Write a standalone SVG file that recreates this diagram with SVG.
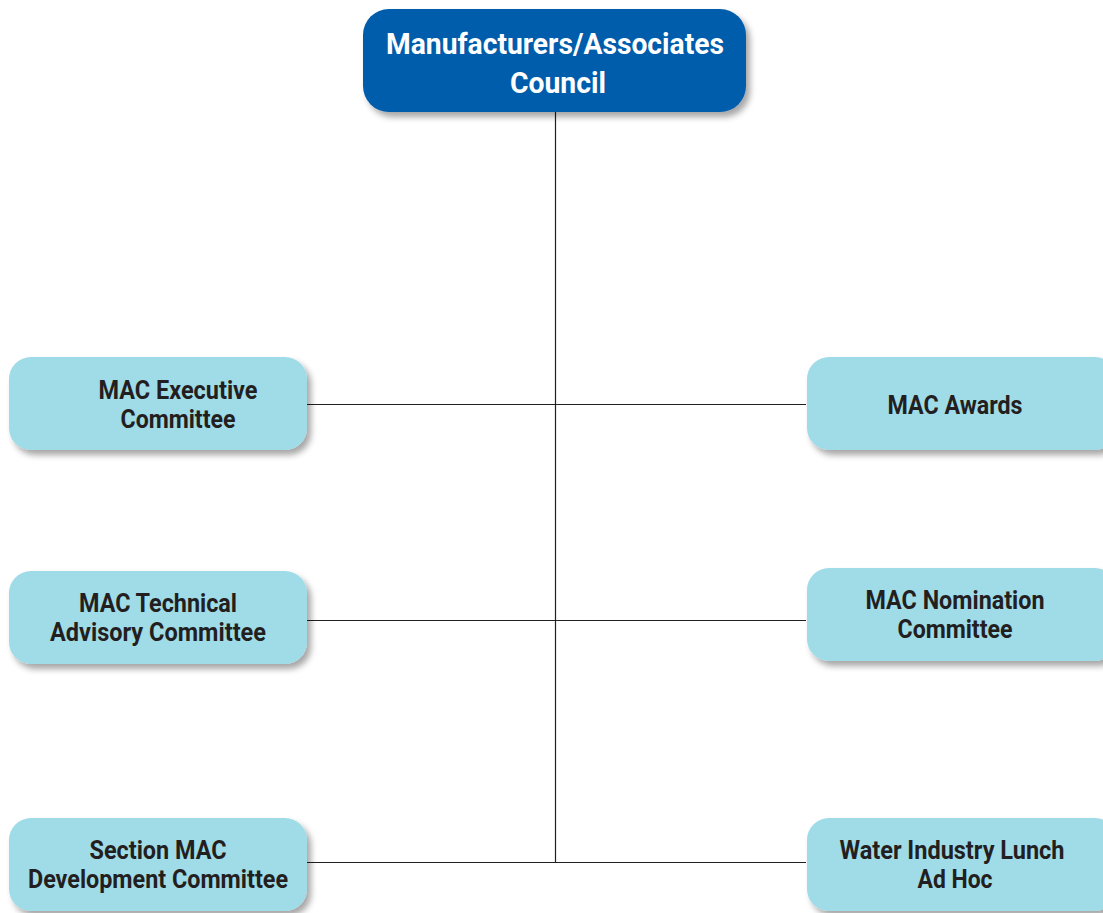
<svg xmlns="http://www.w3.org/2000/svg" width="1103" height="913" viewBox="0 0 1103 913">
<style>
.top{fill:#005dab;}
.box{fill:#a0dbe8;}
.t{font-family:"Roboto","Liberation Sans",sans-serif;font-weight:bold;text-anchor:middle;fill:#231f20;font-size:26px;}
.tw{font-family:"Roboto","Liberation Sans",sans-serif;font-weight:bold;text-anchor:middle;fill:#ffffff;font-size:29px;}
.ln{stroke:#231f20;stroke-width:1.2;fill:none;}
</style>
<defs>
<filter id="sh" x="-10%" y="-10%" width="130%" height="140%">
<feDropShadow dx="4" dy="5" stdDeviation="3" flood-color="#000" flood-opacity="0.35"/>
</filter>
</defs>
<g id="connectors">
<path class="ln" d="M555.5 112V862.5M307 404.5H806M307 620.5H806M307 862.5H806"/>
</g>
<g id="council">
<rect class="top" x="363" y="9" width="383" height="103" rx="26" filter="url(#sh)"/>
<text class="tw" x="555" y="54" textLength="338" lengthAdjust="spacingAndGlyphs">Manufacturers/Associates</text>
<text class="tw" x="558" y="93" textLength="96" lengthAdjust="spacingAndGlyphs">Council</text>
</g>
<g id="exec">
<rect class="box" x="9" y="357" width="298" height="93" rx="22" filter="url(#sh)"/>
<text class="t" x="178" y="399" textLength="159" lengthAdjust="spacingAndGlyphs">MAC Executive</text>
<text class="t" x="178" y="428" textLength="115" lengthAdjust="spacingAndGlyphs">Committee</text>
</g>
<g id="tech">
<rect class="box" x="9" y="571" width="298" height="93" rx="22" filter="url(#sh)"/>
<text class="t" x="158" y="612" textLength="158" lengthAdjust="spacingAndGlyphs">MAC Technical</text>
<text class="t" x="158" y="641" textLength="216" lengthAdjust="spacingAndGlyphs">Advisory Committee</text>
</g>
<g id="section">
<rect class="box" x="9" y="818" width="298" height="93" rx="22" filter="url(#sh)"/>
<text class="t" x="158" y="859" textLength="137" lengthAdjust="spacingAndGlyphs">Section MAC</text>
<text class="t" x="158" y="888" textLength="260" lengthAdjust="spacingAndGlyphs">Development Committee</text>
</g>
<g id="awards">
<rect class="box" x="807" y="357" width="310" height="93" rx="22" filter="url(#sh)"/>
<text class="t" x="955" y="414" textLength="135" lengthAdjust="spacingAndGlyphs">MAC Awards</text>
</g>
<g id="nomination">
<rect class="box" x="807" y="568" width="310" height="93" rx="22" filter="url(#sh)"/>
<text class="t" x="955" y="609" textLength="179" lengthAdjust="spacingAndGlyphs">MAC Nomination</text>
<text class="t" x="955" y="638" textLength="115" lengthAdjust="spacingAndGlyphs">Committee</text>
</g>
<g id="water">
<rect class="box" x="807" y="818" width="310" height="93" rx="22" filter="url(#sh)"/>
<text class="t" x="952" y="859" textLength="225" lengthAdjust="spacingAndGlyphs">Water Industry Lunch</text>
<text class="t" x="955" y="888" textLength="75" lengthAdjust="spacingAndGlyphs">Ad Hoc</text>
</g>
</svg>
